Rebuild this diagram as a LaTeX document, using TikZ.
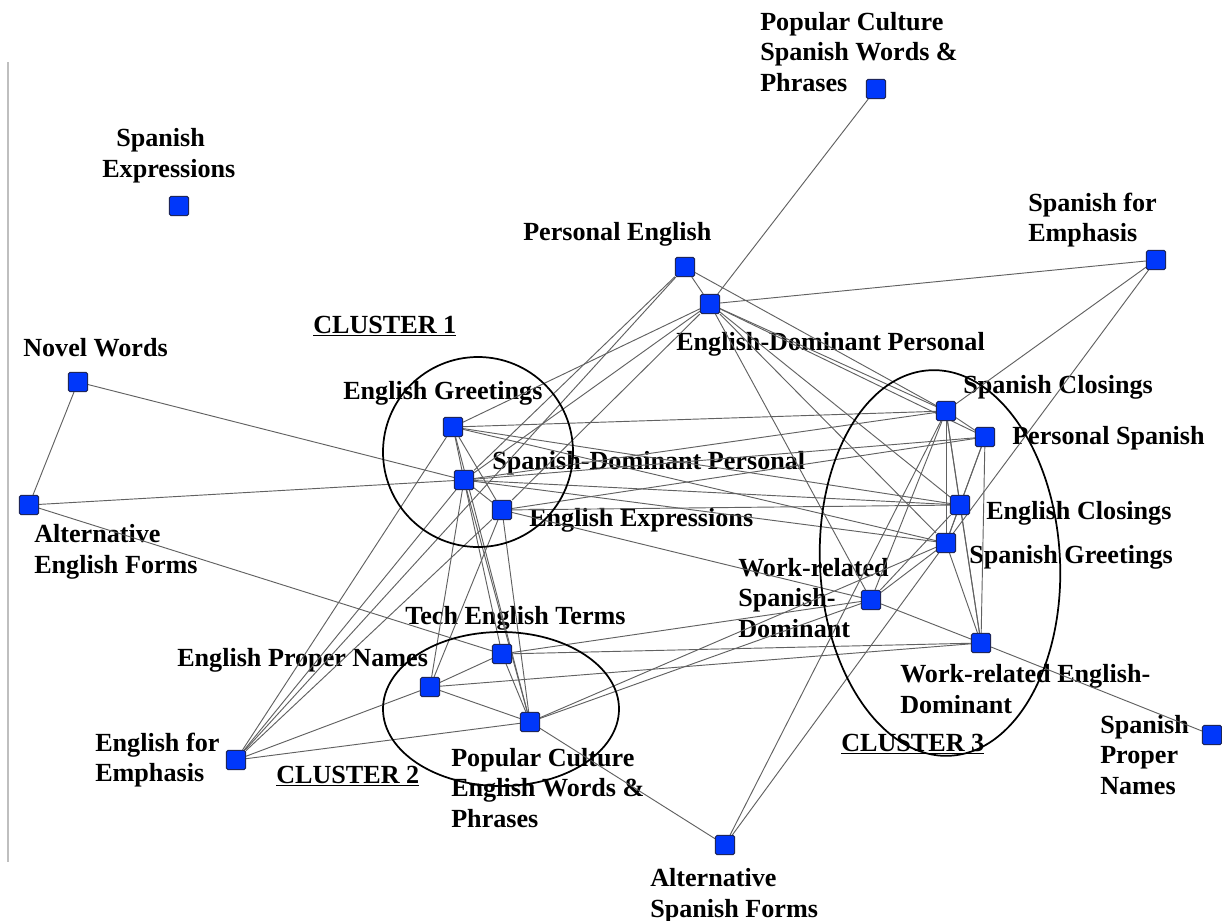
\documentclass[tikz,border=0pt]{standalone}
\usepackage{fontspec}
\setmainfont{Liberation Serif}
\pgfdeclarelayer{backdrop}
\pgfdeclarelayer{labels}
\pgfdeclarelayer{links}
\pgfsetlayers{backdrop,labels,links,main}

\begin{document}
\begin{tikzpicture}[x=0.75pt,y=-0.75pt,
  vert/.style={draw={rgb,255:red,30;green,38;blue,90},fill={rgb,255:red,0;green,55;blue,250},
    minimum size=14.4pt,inner sep=0pt,rounded corners=1.2pt,line width=0.7pt},
  lbl/.style={anchor=west,inner sep=0pt,align=left,font=\fontsize{19.6}{23}\selectfont\bfseries},
  link/.style={draw=black!62,line width=0.7pt},
  cluster/.style={draw=black,line width=1.3pt}]

\useasboundingbox (0,0) rectangle (1222,921);
\begin{pgfonlayer}{backdrop}
\fill[white] (0,0) rectangle (1222,921);
\draw[black!25,line width=0.8pt] (8,62) -- (8,862);
\end{pgfonlayer}

% vertices
\node[vert] (ppcs)  at (876,89)  {};
\node[vert] (spex)  at (179,206) {};
\node[vert] (pers)  at (685,267) {};
\node[vert] (edp)   at (710,304) {};
\node[vert] (spem)  at (1156,260) {};
\node[vert] (novel) at (78,382)  {};
\node[vert] (egr)   at (453,427) {};
\node[vert] (sdp)   at (464,480) {};
\node[vert] (eex)   at (502,510) {};
\node[vert] (alte)  at (29,505)  {};
\node[vert] (scl)   at (946,411) {};
\node[vert] (psp)   at (985,437) {};
\node[vert] (ecl)   at (960,505) {};
\node[vert] (sgr)   at (946,543) {};
\node[vert] (wsp)   at (871,600) {};
\node[vert] (weng)  at (981,643) {};
\node[vert] (tech)  at (502,654) {};
\node[vert] (epn)   at (430,687) {};
\node[vert] (pce)   at (530,722) {};
\node[vert] (eem)   at (236,760) {};
\node[vert] (spn)   at (1212,735) {};
\node[vert] (alts)  at (725,845) {};

% labels
\begin{pgfonlayer}{labels}
\node[lbl] (t-ppcs)  at (760,52)  {Popular Culture\\Spanish Words \&\\Phrases};
\node[lbl] (t-spex)  at (102,156) {\hspace*{10.5pt}Spanish\\Expressions};
\node[lbl] (t-spem)  at (1028,220) {Spanish for\\Emphasis};
\node[lbl] (t-pers)  at (523,234) {Personal English};
\node[lbl] (t-c1)    at (313,326) {\underline{CLUSTER 1}};
\node[lbl] (t-edp)   at (676,344) {English-Dominant Personal};
\node[lbl] (t-novel) at (23,348)  {Novel Words};
\node[lbl] (t-egr)   at (343,393) {English Greetings};
\node[lbl] (t-scl)   at (963,387) {Spanish Closings};
\node[lbl] (t-psp)   at (1012,438) {Personal Spanish};
\node[lbl] (t-sdp)   at (492,463) {Spanish-Dominant Personal};
\node[lbl] (t-eex)   at (529,520) {English Expressions};
\node[lbl] (t-alte)  at (34,552)  {Alternative\\English Forms};
\node[lbl] (t-ecl)   at (986,513) {English Closings};
\node[lbl] (t-sgr)   at (969,557) {Spanish Greetings};
\node[lbl] (t-wsp)   at (738,598) {Work-related\\Spanish-\\Dominant};
\node[lbl] (t-tech)  at (405,618) {Tech English Terms};
\node[lbl] (t-epn)   at (177,660) {English Proper Names};
\node[lbl] (t-weng)  at (900,689) {Work-related English-\\Dominant};
\node[lbl] (t-spn)   at (1100,755) {Spanish\\Proper\\Names};
\node[lbl] (t-eem)   at (95,760)  {English for\\Emphasis};
\node[lbl] (t-c2)    at (276,776) {\underline{CLUSTER 2}};
\node[lbl] (t-c3)    at (841,744) {\underline{CLUSTER 3}};
\node[lbl] (t-pce)   at (451,788) {Popular Culture\\English Words \&\\Phrases};
\node[lbl] (t-alts)  at (650,896) {Alternative\\Spanish Forms};
\end{pgfonlayer}

% connectors
\begin{pgfonlayer}{links}
\foreach \a/\b in {novel/alte, novel/sdp, alte/sdp, alte/tech,
  ppcs/edp, pers/edp, pers/sdp, pers/scl, pers/eem,
  edp/spem, edp/egr, edp/sdp, edp/eex, edp/scl, edp/psp, edp/ecl, edp/sgr, edp/wsp,
  spem/scl, spem/sgr, alts/sgr, alts/scl, alts/pce,
  egr/sdp, egr/eex, egr/scl, egr/ecl, egr/sgr, egr/eem, egr/pce,
  sdp/eex, sdp/scl, sdp/psp, sdp/ecl, sdp/sgr, sdp/epn, sdp/tech, sdp/pce, sdp/eem,
  eex/psp, eex/ecl, eex/wsp, eex/epn, eex/pce, eex/eem,
  tech/epn, tech/pce, tech/wsp, tech/weng,
  epn/pce, epn/eem, epn/weng,
  pce/eem, pce/wsp, pce/sgr,
  scl/psp, scl/ecl, scl/sgr, scl/wsp, scl/weng,
  psp/ecl, psp/sgr, psp/weng,
  ecl/sgr, ecl/wsp, ecl/weng,
  sgr/wsp, sgr/weng, wsp/weng, weng/spn}
  \draw[link] (\a) -- (\b);

% cluster outlines
\draw[cluster] (478,452) circle [radius=71.25pt];
\draw[cluster] (501,709) ellipse [x radius=88.5pt, y radius=57.75pt];
\draw[cluster, rotate around={3:(940,563)}] (940,563) ellipse [x radius=90pt, y radius=144.75pt];
\end{pgfonlayer}
\end{tikzpicture}
\end{document}
